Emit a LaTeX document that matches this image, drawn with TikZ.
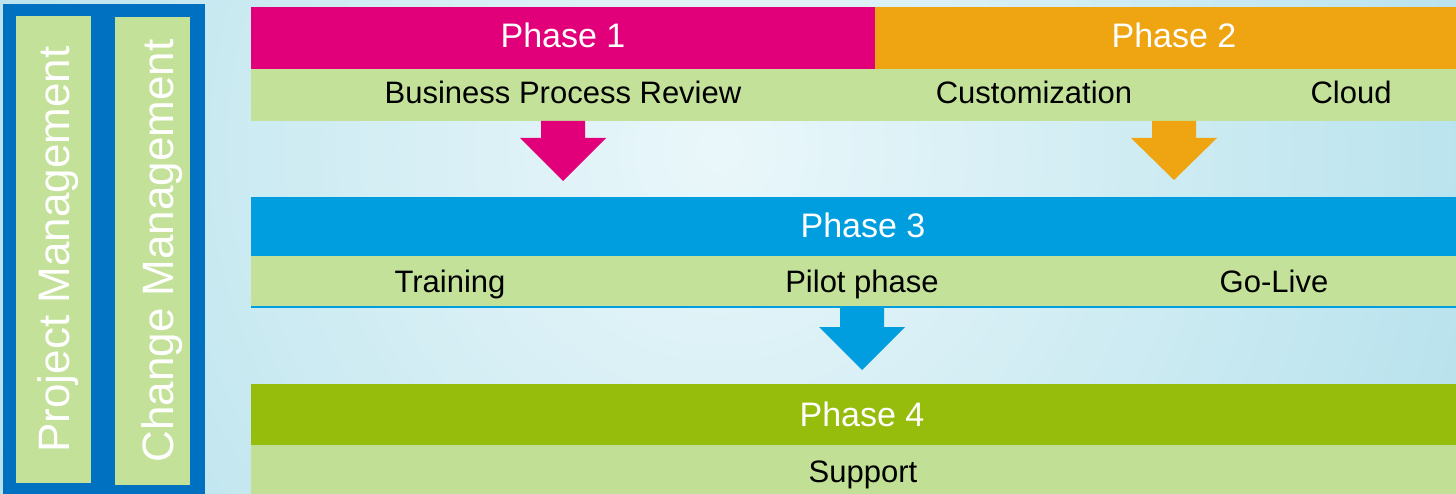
\documentclass[tikz,border=0pt]{standalone}
\usepackage{fontspec}
\setmainfont{Liberation Sans}
\usetikzlibrary{calc}
\definecolor{magentaP}{HTML}{E2007A}
\definecolor{orangeP}{HTML}{EFA512}
\definecolor{blueP}{HTML}{009EDE}
\definecolor{greenP}{HTML}{97BD0C}
\definecolor{lightG}{HTML}{C3E199}
\definecolor{supG}{HTML}{C1DF95}
\definecolor{panelB}{HTML}{0070C0}
\definecolor{bgA}{HTML}{EAF7FA}
\definecolor{bgB}{HTML}{BCE4EE}
\definecolor{bgC}{HTML}{70B6CA}
\pgfdeclareradialshading{bgshade}{\pgfpoint{0bp}{0bp}}{color(0bp)=(bgA); color(20bp)=(bgB); color(50bp)=(bgC)}
\newcommand\phasearrow[4]{% coordinate, colour, neck, tip
  \fill[#2] ($(#1)+(-22,0)$) -- ($(#1)+(22,0)$) -- ($(#1)+(22,#3)$) -- ($(#1)+(43,#3)$)
    -- ($(#1)+(0,#4)$) -- ($(#1)+(-43,#3)$) -- ($(#1)+(-22,#3)$) -- cycle;}
\begin{document}
\begin{tikzpicture}[x=1pt,y=-1pt,
  barbox/.style={anchor=north west, inner sep=0pt, outer sep=0pt, draw=none},
  phasetxt/.style={anchor=base, inner sep=0pt, text=white, font=\fontsize{34}{34}\selectfont},
  subtxt/.style={anchor=base, inner sep=0pt, text=black, font=\fontsize{31}{31}\selectfont},
  sidetxt/.style={rotate=90, inner sep=0pt, text=white, font=\fontsize{44}{44}\selectfont}]
\useasboundingbox (0,0) rectangle (1456,494);
% background
\begin{scope}
  \clip (0,0) rectangle (1456,494);
  \fill[bgC] (0,0) rectangle (1456,494);
  \shade[shading=bgshade] (720,150) circle (900);
\end{scope}
% left panel
\node[barbox, fill=panelB, minimum width=202pt, minimum height=490pt] (panel) at (3,4) {};
\node[barbox, fill=lightG, minimum width=75pt, minimum height=467pt] (pmbox) at (16,16) {};
\node[barbox, fill=lightG, minimum width=75pt, minimum height=468pt] (cmbox) at (115,17) {};
\node[sidetxt] (pmtxt) at ($(pmbox.center)+(4.5,0)$) {Project Management};
\node[sidetxt] (cmtxt) at ($(cmbox.center)+(10,0)$) {Change Management};
% phase 1 and 2
\node[barbox, fill=magentaP, minimum width=624pt, minimum height=62pt] (ph1) at (251,7) {};
\node[barbox, fill=orangeP, minimum width=581pt, minimum height=62pt] (ph2) at (875,7) {};
\node[barbox, fill=lightG, minimum width=1205pt, minimum height=52pt] (sub1) at (251,69) {};
\node[phasetxt] (ph1t) at (563,48) {Phase 1};
\node[phasetxt] (ph2t) at (1174,48) {Phase 2};
\node[subtxt] (bpr) at (563,104) {Business Process Review};
\node[subtxt] (cust) at (1034,104) {Customization};
\node[subtxt] (cloud) at (1351,104) {Cloud};
% phase 3
\node[barbox, fill=blueP, minimum width=1205pt, minimum height=59pt] (ph3) at (251,197) {};
\node[barbox, fill=lightG, minimum width=1205pt, minimum height=51pt] (sub3) at (251,256) {};
\draw[blueP, line width=2pt] (sub3.south west) -- (sub3.south east);
\node[phasetxt] (ph3t) at (863,238) {Phase 3};
\node[subtxt] (train) at (450,293) {Training};
\node[subtxt] (pilot) at (862,293) {Pilot phase};
\node[subtxt] (golive) at (1274,293) {Go-Live};
% phase 4
\node[barbox, fill=greenP, minimum width=1205pt, minimum height=61pt] (ph4) at (251,384) {};
\node[barbox, fill=supG, minimum width=1205pt, minimum height=50pt] (sub4) at (251,445) {};
\node[phasetxt] (ph4t) at (862,426) {Phase 4};
\node[subtxt] (supp) at (863,482) {Support};
% arrows
\coordinate (a1) at ($(sub1.south west)+(312,0)$);
\coordinate (a2) at ($(sub1.south west)+(923,0)$);
\coordinate (a3) at ($(sub3.south west)+(611,1)$);
\phasearrow{a1}{magentaP}{17}{60}
\phasearrow{a2}{orangeP}{17}{59}
\phasearrow{a3}{blueP}{19}{62}
\end{tikzpicture}
\end{document}
